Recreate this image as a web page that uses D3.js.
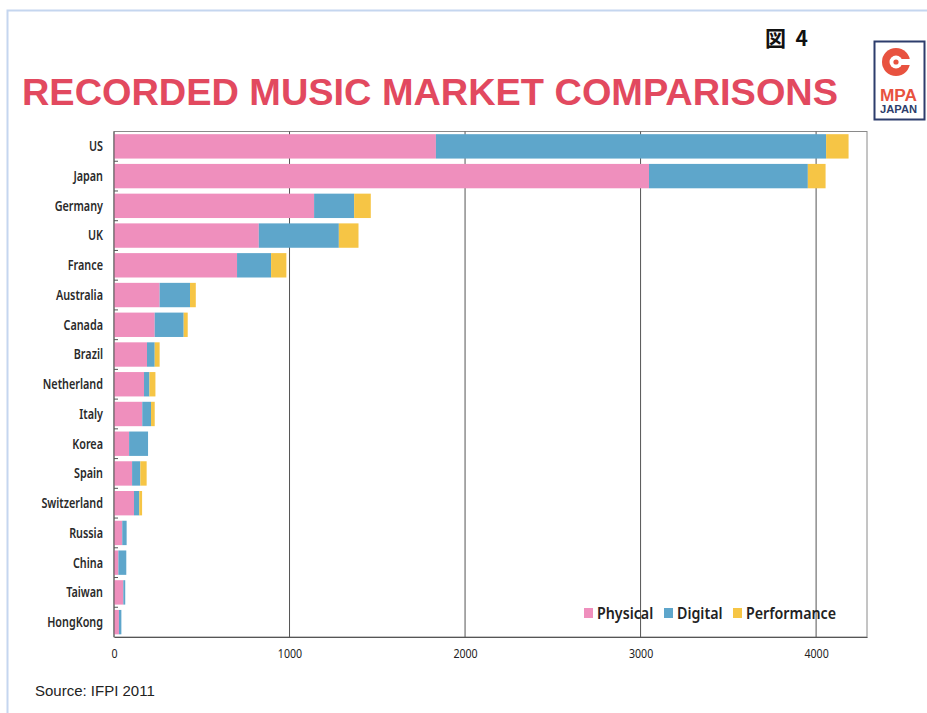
<!DOCTYPE html>
<html>
<head>
<meta charset="utf-8">
<script src="https://cdn.jsdelivr.net/npm/d3@7"></script>
<style>
  html, body { margin: 0; padding: 0; background: #fff; }
  svg { display: block; }
</style>
</head>
<body>
<svg id="chart" width="927" height="713"></svg>
<script>
// Recorded music market by country, US$ millions (IFPI 2011)
const countries = ["US", "Japan", "Germany", "UK", "France", "Australia", "Canada", "Brazil",
  "Netherland", "Italy", "Korea", "Spain", "Switzerland", "Russia", "China", "Taiwan", "HongKong"];
const physical    = [1834, 3048, 1140, 825, 701, 260, 232, 188, 171, 161, 86, 103, 114, 47, 25, 53, 28];
const digital     = [2223,  905,  228, 456, 194, 173, 165,  44,  31,  50, 108, 47,  30, 25, 45, 11, 14];
const performance = [ 128,  101,   95, 112,  87,  33,  23,  28,  34,  21,   0, 36,  16,  0,  0,  0,  0];
const seriesNames = ["Physical", "Digital", "Performance"];
const seriesColors = ["#ef8fbd", "#5ea6cb", "#f6c545"];
const xTicks = [0, 1000, 2000, 3000, 4000];

const svg = d3.select("#chart");
const labelFont = "'Noto Sans', 'DejaVu Sans', sans-serif";

// squeeze a text selection horizontally (narrow gothic look)
function condense(sel, factor) {
  sel.each(function () {
    const w = this.getComputedTextLength();
    d3.select(this).attr("textLength", w * factor).attr("lengthAdjust", "spacingAndGlyphs");
  });
}

// page frame
svg.append("path")
  .attr("d", "M7.5,713 L7.5,10.5 L927,10.5")
  .attr("fill", "none").attr("stroke", "#c5d6ef").attr("stroke-width", 2);

// figure number
svg.append("text")
  .attr("x", 765).attr("y", 46)
  .attr("font-family", "'Noto Sans CJK JP', sans-serif")
  .attr("font-weight", "bold").attr("font-size", 21).attr("fill", "#111")
  .attr("textLength", 43).attr("lengthAdjust", "spacing")
  .text("図 4");

// title
svg.append("text")
  .attr("x", 22).attr("y", 105)
  .attr("font-family", "'Liberation Sans', Arial, sans-serif")
  .attr("font-weight", "bold").attr("font-size", 37).attr("fill", "#e2495f")
  .attr("textLength", 816).attr("lengthAdjust", "spacingAndGlyphs")
  .text("RECORDED MUSIC MARKET COMPARISONS");

// MPA JAPAN logo
const logo = svg.append("g");
logo.append("rect").attr("x", 874.5).attr("y", 41.5).attr("width", 50).attr("height", 78)
  .attr("fill", "#fff").attr("stroke", "#2d3d6c").attr("stroke-width", 2);
logo.append("circle").attr("cx", 896).attr("cy", 62).attr("r", 14).attr("fill", "#e8523f");
logo.append("rect").attr("x", 896).attr("y", 59).attr("width", 15).attr("height", 6).attr("fill", "#fff");
logo.append("circle").attr("cx", 896).attr("cy", 62).attr("r", 6.5).attr("fill", "#fff");
logo.append("circle").attr("cx", 896).attr("cy", 62).attr("r", 2.6).attr("fill", "#e8523f");
logo.append("text").attr("x", 880).attr("y", 101)
  .attr("font-family", "'Liberation Sans', Arial, sans-serif").attr("font-weight", "bold")
  .attr("font-size", 16).attr("fill", "#e8523f")
  .attr("textLength", 37).attr("lengthAdjust", "spacingAndGlyphs").text("MPA");
logo.append("text").attr("x", 880).attr("y", 113)
  .attr("font-family", "'Liberation Sans', Arial, sans-serif").attr("font-weight", "bold")
  .attr("font-size", 10).attr("fill", "#2d3d6c")
  .attr("textLength", 37).attr("lengthAdjust", "spacingAndGlyphs").text("JAPAN");

// plot area
const plot = { left: 114, right: 867, top: 131.5, bottom: 637 };

const x = d3.scaleLinear().domain([0, 4290]).range([plot.left, plot.right]);
const y = d3.scaleBand().domain(countries).range([plot.top, plot.bottom])
  .paddingInner(0.18).paddingOuter(0.09);

// stacked layout
const rows = countries.map((c, i) => ({
  country: c, Physical: physical[i], Digital: digital[i], Performance: performance[i]
}));
const stacked = d3.stack().keys(seriesNames)(rows);

// plot frame
svg.append("rect")
  .attr("x", plot.left).attr("y", plot.top)
  .attr("width", plot.right - plot.left).attr("height", plot.bottom - plot.top)
  .attr("fill", "#fff").attr("stroke", "#8a8a8a").attr("stroke-width", 1);

// vertical gridlines
svg.append("g").selectAll("line")
  .data(xTicks.filter(d => d > 0))
  .join("line")
  .attr("x1", d => x(d)).attr("x2", d => x(d))
  .attr("y1", plot.top).attr("y2", plot.bottom)
  .attr("stroke", "#555").attr("stroke-width", 1);

// bars
svg.append("g").selectAll("g")
  .data(stacked)
  .join("g")
  .attr("fill", (d, i) => seriesColors[i])
  .selectAll("rect")
  .data(d => d.map((v, i) => ({ v, country: countries[i] })))
  .join("rect")
  .attr("x", d => x(d.v[0]))
  .attr("y", d => y(d.country))
  .attr("width", d => Math.max(0, x(d.v[1]) - x(d.v[0])))
  .attr("height", y.bandwidth());

// left axis line and category ticks at band boundaries
svg.append("line")
  .attr("x1", plot.left).attr("x2", plot.left)
  .attr("y1", plot.top).attr("y2", plot.bottom)
  .attr("stroke", "#555");
const step = y.step();
svg.append("g").selectAll("line")
  .data(countries.slice(1))
  .join("line")
  .attr("x1", plot.left).attr("x2", plot.left + 4)
  .attr("y1", d => y(d) - step * y.paddingInner() / 2)
  .attr("y2", d => y(d) - step * y.paddingInner() / 2)
  .attr("stroke", "#555");

// category labels
svg.append("g").selectAll("text")
  .data(countries)
  .join("text")
  .attr("x", 103)
  .attr("y", d => y(d) + y.bandwidth() / 2)
  .attr("dy", "0.36em")
  .attr("text-anchor", "end")
  .attr("font-family", labelFont)
  .attr("font-weight", 600)
  .attr("font-size", 13.5).attr("fill", "#2a2a2a")
  .text(d => d)
  .call(condense, 0.8);

// bottom axis
const xAxis = d3.axisBottom(x).tickValues(xTicks).tickSize(0).tickPadding(12).tickFormat(d3.format("d"));
const gx = svg.append("g").attr("transform", `translate(0,${plot.bottom})`).call(xAxis);
gx.select(".domain").attr("stroke", "#555");
gx.selectAll("text")
  .attr("font-family", labelFont)
  .attr("font-size", 12.5).attr("fill", "#222")
  .call(condense, 0.85);

// legend
const legendX = [584, 664, 733];
const legend = svg.append("g").selectAll("g")
  .data(seriesNames)
  .join("g")
  .attr("transform", (d, i) => `translate(${legendX[i]},608)`);
legend.append("rect").attr("width", 9).attr("height", 10)
  .attr("fill", (d, i) => seriesColors[i]);
legend.append("text").attr("x", 13).attr("y", 11)
  .attr("font-family", labelFont)
  .attr("font-weight", 600)
  .attr("font-size", 16).attr("fill", "#222")
  .text(d => d)
  .call(condense, 0.89);

// source note
svg.append("text")
  .attr("x", 35).attr("y", 696)
  .attr("font-family", "'Liberation Sans', Arial, sans-serif")
  .attr("font-size", 15).attr("fill", "#222")
  .text("Source: IFPI 2011");
</script>
</body>
</html>
